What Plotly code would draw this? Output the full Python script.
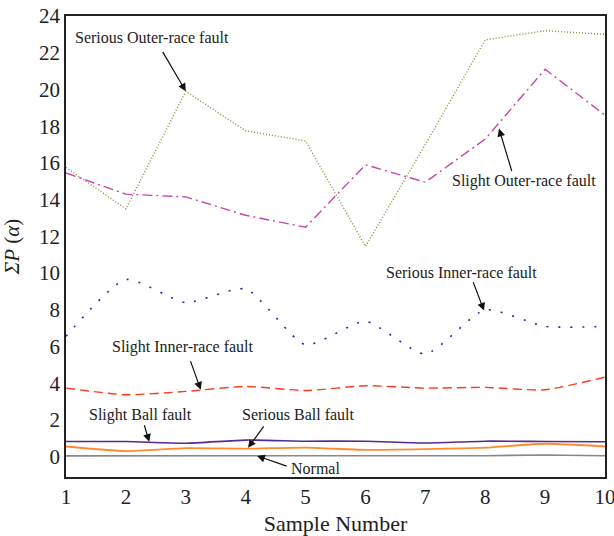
import plotly.graph_objects as go

samples = [1, 2, 3, 4, 5, 6, 7, 8, 9, 10]

serious_outer = [15.75, 13.5, 19.9, 17.75, 17.2, 11.45, 17.0, 22.7, 23.2, 23.0]
slight_outer = [15.45, 14.3, 14.15, 13.15, 12.5, 15.9, 14.95, 17.3, 21.1, 18.6]
serious_inner = [6.56, 9.65, 8.4, 9.14, 6.1, 7.37, 5.6, 8.0, 7.1, 7.1]
slight_inner = [3.74, 3.38, 3.56, 3.83, 3.61, 3.87, 3.74, 3.78, 3.65, 4.34]
slight_ball = [0.83, 0.83, 0.74, 0.91, 0.85, 0.85, 0.75, 0.85, 0.83, 0.82]
serious_ball = [0.56, 0.31, 0.47, 0.44, 0.5, 0.38, 0.42, 0.5, 0.71, 0.56]
normal = [0.05, 0.06, 0.06, 0.06, 0.06, 0.06, 0.05, 0.06, 0.1, 0.06]

x_ticks = samples
y_ticks = [0, 2, 4, 6, 8, 10, 12, 14, 16, 18, 20, 22, 24]

FONT = "Liberation Serif"

series = [
    (serious_outer, "#8c8c38", "1px,2px", 1.4, "linear"),
    (slight_outer, "#cc44aa", "10px,4px,2px,4px", 1.4, "linear"),
    (serious_inner, "#2a2a9a", "2px,10px", 1.6, "spline"),
    (slight_inner, "#ff3a1a", "9px,5px", 1.4, "spline"),
    (slight_ball, "#5a2a8c", "solid", 1.6, "spline"),
    (serious_ball, "#ff8a30", "solid", 1.8, "spline"),
    (normal, "#888888", "solid", 1.6, "linear"),
]

fig = go.Figure()
for vals, color, dash, width, shape in series:
    fig.add_trace(go.Scatter(
        x=samples, y=vals, mode="lines",
        line=dict(color=color, dash=dash, width=width, shape=shape,
                  smoothing=0.6 if shape == "spline" else None),
        showlegend=False, hoverinfo="skip",
    ))

# label text, text position, arrow tail, arrow tip (data coordinates)
labels = [
    ("Serious Outer-race fault", (2.44, 22.83), (2.60, 22.13), (3.0, 19.9)),
    ("Slight Outer-race fault", (8.65, 15.04), (8.45, 15.48), (8.23, 17.87)),
    ("Serious Inner-race fault", (7.61, 10.03), (7.79, 9.59), (7.98, 7.96)),
    ("Slight Inner-race fault", (2.95, 5.99), (3.07, 5.29), (3.25, 3.65)),
    ("Slight Ball fault", (2.24, 2.29), (2.30, 1.80), (2.39, 0.82)),
    ("Serious Ball fault", (4.89, 2.29), (4.32, 1.74), (4.04, 0.49)),
    ("Normal", (5.16, -0.65), (4.71, -0.54), (4.19, 0.05)),
]

for text, (tx, ty), (ax, ay), (hx, hy) in labels:
    fig.add_annotation(x=tx, y=ty, text=text, showarrow=False,
                       font=dict(family=FONT, size=16, color="#222222"),
                       xanchor="center", yanchor="middle")
    fig.add_annotation(x=hx, y=hy, ax=ax, ay=ay, axref="x", ayref="y",
                       xref="x", yref="y", text="", showarrow=True,
                       arrowhead=2, arrowsize=1.3, arrowwidth=1.2,
                       arrowcolor="#111111")

fig.update_layout(
    width=614, height=536,
    margin=dict(l=66, r=9, t=16, b=59),
    paper_bgcolor="white", plot_bgcolor="white",
    font=dict(family=FONT, size=20, color="#222222"),
    xaxis=dict(
        range=[1, 10], tickvals=x_ticks, showgrid=False, zeroline=False,
        showline=True, linecolor="#222222", linewidth=1.5, mirror=True,
        ticks="", tickfont=dict(size=21), automargin=False,
        ticklabeloverflow="allow",
        title=dict(text="Sample Number", font=dict(size=22)),
    ),
    yaxis=dict(
        range=[-1.1, 24], tickvals=y_ticks, showgrid=False, zeroline=False,
        showline=True, linecolor="#222222", linewidth=1.5, mirror=True,
        ticks="", tickfont=dict(size=21), automargin=False,
        ticklabeloverflow="allow",
        title=dict(text="<i>ΣP</i> (<i>α</i>)", font=dict(size=21)),
    ),
)

fig.write_html("out.html")
